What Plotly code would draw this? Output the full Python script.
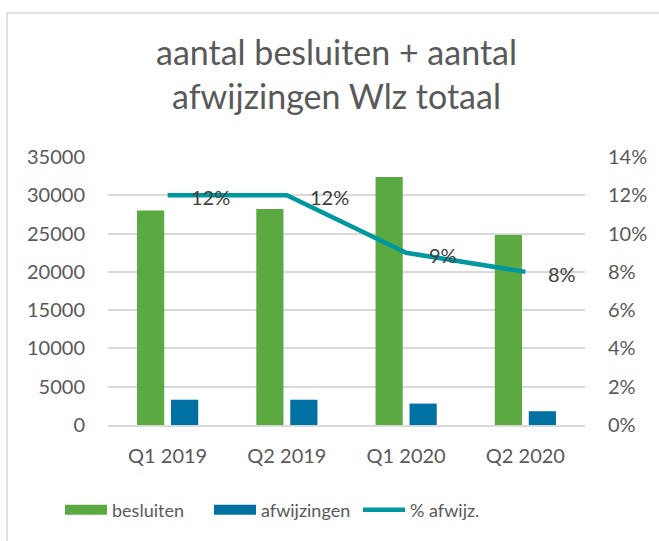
import plotly.graph_objects as go

categories = ["Q1 2019", "Q2 2019", "Q1 2020", "Q2 2020"]
besluiten = [28000, 28200, 32400, 24800]
afwijzingen = [3300, 3300, 2800, 1800]
pct_afwijz = [0.12, 0.12, 0.09, 0.08]
left_ticks = [0, 5000, 10000, 15000, 20000, 25000, 30000, 35000]
right_ticks = [0, 0.02, 0.04, 0.06, 0.08, 0.10, 0.12, 0.14]

GREEN = "#5BA941"
BLUE = "#0071A2"
TEAL = "#00979E"
TXT = "#595959"
GRID = "#D9D9D9"
FONT = "Lato"
FS = 20

fig = go.Figure()
fig.add_trace(go.Bar(x=categories, y=besluiten, name="besluiten", showlegend=False,
                     marker=dict(color=GREEN, line=dict(width=0))))
fig.add_trace(go.Bar(x=categories, y=afwijzingen, name="afwijzingen", showlegend=False,
                     marker=dict(color=BLUE, line=dict(width=0))))
fig.add_trace(go.Scatter(x=categories, y=pct_afwijz, name="% afwijz.", yaxis="y2",
                         mode="lines", line=dict(color=TEAL, width=4.5), showlegend=False))
# legend entries (wide rectangles like the reference)
fig.add_trace(go.Scatter(x=[None], y=[None], name="besluiten", mode="lines",
                         line=dict(color=GREEN, width=14)))
fig.add_trace(go.Scatter(x=[None], y=[None], name="afwijzingen", mode="lines",
                         line=dict(color=BLUE, width=14)))
fig.add_trace(go.Scatter(x=[None], y=[None], name="% afwijz.", mode="lines",
                         line=dict(color=TEAL, width=4.5)))

annotations = []
for c, p in zip(categories, pct_afwijz):
    annotations.append(dict(x=c, y=p, xref="x", yref="y2", text=f"{round(p*100)}%",
                            showarrow=False, xanchor="left", yanchor="middle",
                            xshift=21, yshift=-2,
                            font=dict(family=FONT, size=FS, color="#404040")))

annotations.append(dict(text="aantal besluiten + aantal<br>afwijzingen Wlz totaal",
                        xref="paper", yref="paper", x=0.478, y=1.31,
                        xanchor="center", yanchor="middle", showarrow=False,
                        font=dict(family=FONT, size=34, color=TXT)))

fig.update_layout(
    width=659, height=541,
    margin=dict(l=108, r=74, t=157, b=116),
    paper_bgcolor="white", plot_bgcolor="white",
    font=dict(family=FONT, size=FS, color=TXT),
    barmode="group", bargap=0.43, bargroupgap=0.2,
    showlegend=True,
    legend=dict(orientation="h", x=-0.1006, xanchor="left", y=-0.317, yanchor="middle",
                font=dict(family=FONT, size=18, color=TXT), itemwidth=42,
                entrywidth=92, entrywidthmode="pixels",
                traceorder="normal"),
    xaxis=dict(showgrid=False, showline=True, linecolor=GRID, linewidth=1.5,
               ticks="", tickfont=dict(size=FS, color=TXT), ticklabelstandoff=12),
    yaxis=dict(range=[0, 35000], tickvals=left_ticks, showgrid=True, gridcolor=GRID,
               gridwidth=1.5, zeroline=False, showline=False, ticks="",
               tickformat="d", ticklabelstandoff=22, tickfont=dict(size=FS, color=TXT)),
    yaxis2=dict(range=[0, 0.14], tickvals=right_ticks, overlaying="y", side="right",
                showgrid=False, zeroline=False, showline=False, ticks="",
                tickformat=".0%", ticklabelstandoff=22, tickfont=dict(size=FS, color=TXT)),
    annotations=annotations,
    shapes=[dict(type="rect", xref="paper", yref="paper", x0=-0.2117, x1=1.3,
                 y0=-0.6, y1=1.537, line=dict(color=GRID, width=1.5), layer="below")],
)

fig.write_html("out.html", config={"displayModeBar": False},
               post_script="document.body.style.margin='0';")
